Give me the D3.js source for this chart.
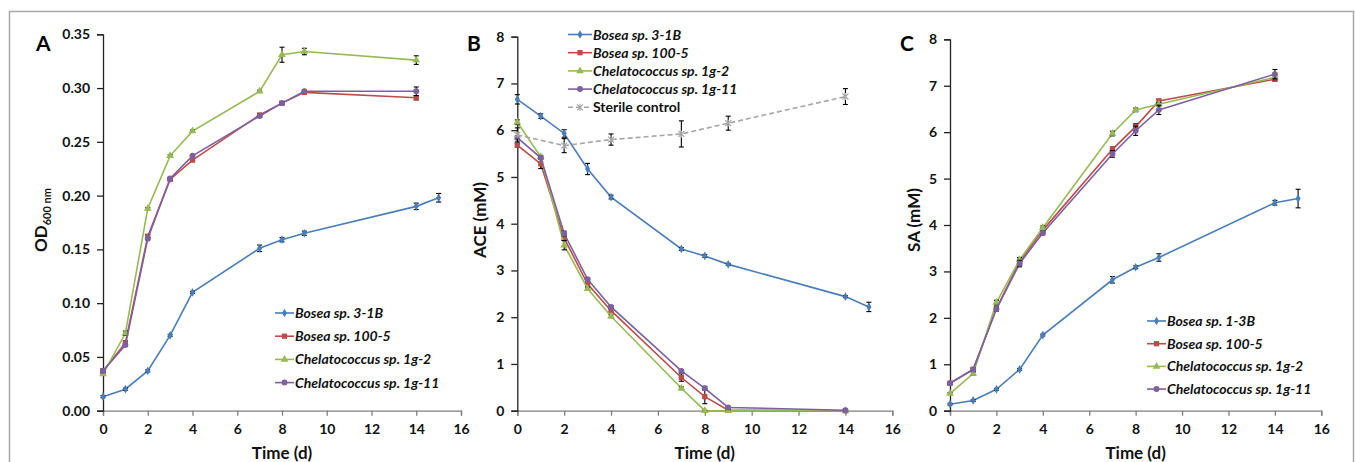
<!DOCTYPE html>
<html>
<head>
<meta charset="utf-8">
<script src="https://cdn.jsdelivr.net/npm/d3@7"></script>
<style>
  body { margin: 0; background: #fff; }
  svg text { font-family: Lato, "Open Sans", sans-serif; }
</style>
</head>
<body>
<div id="chart"></div>
<script>
// ---- data ----
var days = [0, 1, 2, 3, 4, 7, 8, 9, 14];
var daysLong = [0, 1, 2, 3, 4, 7, 8, 9, 14, 15];
var daysControl = [0, 2, 4, 7, 9, 14];

var seriesNames = ["Bosea sp. 3-1B", "Bosea sp. 100-5", "Chelatococcus sp. 1g-2", "Chelatococcus sp. 1g-11"];
var seriesNamesC = ["Bosea sp. 1-3B", "Bosea sp. 100-5", "Chelatococcus sp. 1g-2", "Chelatococcus sp. 1g-11"];
var controlName = "Sterile control";

// A: OD600
var odBlue = [0.013, 0.020, 0.037, 0.070, 0.110, 0.151, 0.159, 0.165, 0.190, 0.198];
var odBlueErr = [0.001, 0.001, 0.001, 0.001, 0.001, 0.003, 0.002, 0.002, 0.003, 0.004];
var odRed = [0.037, 0.063, 0.162, 0.215, 0.233, 0.275, 0.286, 0.296, 0.291];
var odRedErr = [0.002, 0.002, 0.002, 0.001, 0.001, 0.001, 0.001, 0.001, 0.002];
var odGreen = [0.034, 0.072, 0.188, 0.237, 0.260, 0.297, 0.331, 0.334, 0.326];
var odGreenErr = [0.001, 0.002, 0.001, 0.001, 0.001, 0.001, 0.007, 0.003, 0.004];
var odPurple = [0.037, 0.061, 0.160, 0.216, 0.237, 0.274, 0.286, 0.297, 0.297];
var odPurpleErr = [0.001, 0.001, 0.001, 0.001, 0.001, 0.001, 0.001, 0.001, 0.004];

// B: ACE (mM)
var aceBlue = [6.66, 6.30, 5.93, 5.17, 4.57, 3.46, 3.31, 3.13, 2.44, 2.22];
var aceBlueErr = [0.10, 0.05, 0.08, 0.12, 0.04, 0.03, 0.03, 0.02, 0.02, 0.10];
var aceRed = [5.68, 5.28, 3.69, 2.71, 2.14, 0.71, 0.30, 0.01, 0.0];
var aceRedErr = [0.04, 0.10, 0.05, 0.04, 0.03, 0.08, 0.15, 0.01, 0.01];
var aceGreen = [6.17, 5.43, 3.54, 2.61, 2.02, 0.48, 0.0, 0.0, 0.0];
var aceGreenErr = [0.05, 0.03, 0.10, 0.03, 0.03, 0.03, 0.01, 0.01, 0.01];
var acePurple = [5.84, 5.41, 3.79, 2.81, 2.22, 0.85, 0.48, 0.07, 0.01];
var acePurpleErr = [0.04, 0.03, 0.05, 0.03, 0.03, 0.03, 0.04, 0.01, 0.01];
var aceControl = [5.90, 5.67, 5.80, 5.92, 6.15, 6.72];
var aceControlErr = [0.15, 0.15, 0.12, 0.28, 0.15, 0.17];

// C: SA (mM)
var saBlue = [0.14, 0.22, 0.46, 0.89, 1.63, 2.82, 3.09, 3.30, 4.48, 4.57];
var saBlueErr = [0.02, 0.02, 0.02, 0.02, 0.02, 0.07, 0.03, 0.08, 0.05, 0.20];
var saRed = [0.59, 0.89, 2.20, 3.21, 3.89, 5.63, 6.12, 6.67, 7.14];
var saRedErr = [0.02, 0.03, 0.05, 0.08, 0.05, 0.05, 0.06, 0.04, 0.04];
var saGreen = [0.37, 0.80, 2.33, 3.25, 3.94, 5.97, 6.48, 6.60, 7.18];
var saGreenErr = [0.02, 0.03, 0.05, 0.05, 0.04, 0.05, 0.04, 0.04, 0.05];
var saPurple = [0.59, 0.89, 2.19, 3.17, 3.83, 5.53, 6.03, 6.48, 7.25];
var saPurpleErr = [0.02, 0.03, 0.04, 0.07, 0.04, 0.07, 0.10, 0.10, 0.10];

var xTicks = [0, 2, 4, 6, 8, 10, 12, 14, 16];

// colours / marker shapes
var colors = ["#4a7ebb", "#be4b48", "#98b954", "#7d60a0"];
var controlColor = "#a6a6a6";
var markers = ["diamond", "square", "triangle", "circle"];

var w = 1355, h = 462;

var svg = d3.select("#chart")
    .append("svg")
    .attr("width", w)
    .attr("height", h);

// outer frame
svg.append("rect")
    .attr("x", 9.5).attr("y", 11.5)
    .attr("width", 1344).attr("height", 470)
    .attr("fill", "none")
    .attr("stroke", "#a8a8a8")
    .attr("stroke-width", 1.5);

function markerPath(kind) {
    if (kind == "diamond") return d3.symbol(d3.symbolDiamond, 22)();
    if (kind == "square") return d3.symbol(d3.symbolSquare, 28)();
    if (kind == "triangle") return d3.symbol(d3.symbolTriangle, 26)();
    if (kind == "circle") return d3.symbol(d3.symbolCircle, 28)();
    // asterisk marker for sterile control
    return "M-3,-3L3,3M-3,3L3,-3M0,-3.5L0,3.5";
}

function drawMarker(g, kind, color, x, y) {
    var p = g.append("path")
        .attr("d", markerPath(kind))
        .attr("transform", "translate(" + x + "," + y + ")");
    if (kind == "star") {
        p.attr("fill", "none").attr("stroke", color).attr("stroke-width", 1.2);
    } else {
        p.attr("fill", color);
    }
}

function drawPanel(cfg) {
    var g = svg.append("g");
    var x = d3.scaleLinear().domain([0, 16]).range(cfg.xRange);
    var y = d3.scaleLinear().domain(cfg.yDomain).range(cfg.yRange);

    // x axis
    var xAxis = g.append("g")
        .attr("transform", "translate(0," + cfg.yRange[0] + ")")
        .call(d3.axisBottom(x).tickValues(xTicks).tickSize(5).tickPadding(8).tickFormat(d3.format("d")));
    xAxis.selectAll("path, line").attr("stroke", "#7f7f7f").attr("stroke-width", 1.3);
    xAxis.selectAll("text")
        .attr("font-size", "14px").attr("font-weight", "bold").attr("fill", "#111")
        .attr("font-family", "Lato, sans-serif");

    // y axis
    var yAxis = g.append("g")
        .attr("transform", "translate(" + cfg.xRange[0] + ",0)")
        .call(d3.axisLeft(y).tickValues(cfg.yTicks).tickSize(6).tickPadding(7).tickFormat(cfg.yFormat));
    yAxis.selectAll("path, line").attr("stroke", "#222").attr("stroke-width", 1.3);
    yAxis.selectAll("text")
        .attr("font-size", "14px").attr("font-weight", "bold").attr("fill", "#111")
        .attr("font-family", "Lato, sans-serif");

    // axis titles
    g.append("text")
        .attr("x", (cfg.xRange[0] + cfg.xRange[1]) / 2)
        .attr("y", 459)
        .attr("text-anchor", "middle")
        .attr("font-size", "17px").attr("font-weight", "bold").attr("fill", "#111")
        .text("Time (d)");

    var yt = g.append("text")
        .attr("transform", "translate(" + cfg.yTitleX + ",220) rotate(-90)")
        .attr("text-anchor", "middle")
        .attr("font-size", "17px").attr("font-weight", "bold").attr("fill", "#111");
    if (cfg.yTitleSub) {
        yt.append("tspan").text(cfg.yTitle);
        yt.append("tspan").attr("font-size", "11px").attr("dy", 4).text(cfg.yTitleSub);
    } else {
        yt.text(cfg.yTitle);
    }

    // panel letter
    g.append("text")
        .attr("x", cfg.letterX).attr("y", 51)
        .attr("font-family", "Liberation Sans, Arial, sans-serif")
        .attr("font-size", "21px").attr("font-weight", "bold").attr("fill", "#000")
        .text(cfg.letter);

    var line = d3.line()
        .x(function(d) { return x(d[0]); })
        .y(function(d) { return y(d[1]); });

    cfg.series.forEach(function(s) {
        var pts = s.x.map(function(t, i) { return [t, s.y[i], s.err[i]]; });
        g.append("path")
            .datum(pts)
            .attr("d", line)
            .attr("fill", "none")
            .attr("stroke", s.color)
            .attr("stroke-width", 1.6)
            .attr("stroke-dasharray", s.dashed ? "5,3" : null);
        // error bars
        pts.forEach(function(p) {
            var cx = x(p[0]);
            var y1 = y(Math.max(0, p[1] - p[2])), y2 = y(p[1] + p[2]);
            var eb = g.append("g").attr("stroke", "#000").attr("stroke-width", 1.1);
            eb.append("line").attr("x1", cx).attr("x2", cx).attr("y1", y1).attr("y2", y2);
            eb.append("line").attr("x1", cx - 2.5).attr("x2", cx + 2.5).attr("y1", y1).attr("y2", y1);
            eb.append("line").attr("x1", cx - 2.5).attr("x2", cx + 2.5).attr("y1", y2).attr("y2", y2);
        });
        pts.forEach(function(p) {
            drawMarker(g, s.marker, s.color, x(p[0]), y(p[1]));
        });
    });

    // legend
    var lg = g.append("g").attr("transform", "translate(" + cfg.legend[0] + "," + cfg.legend[1] + ")");
    cfg.series.forEach(function(s, i) {
        var yy = i * cfg.legendStep;
        lg.append("line")
            .attr("x1", 0).attr("x2", cfg.legendLine)
            .attr("y1", yy).attr("y2", yy)
            .attr("stroke", s.color).attr("stroke-width", 1.6)
            .attr("stroke-dasharray", s.dashed ? "5,3" : null);
        drawMarker(lg, s.marker, s.color, cfg.legendLine / 2, yy);
        lg.append("text")
            .attr("x", cfg.legendLine + 1).attr("y", yy + 5)
            .attr("font-size", "14px").attr("font-weight", "bold")
            .attr("font-style", s.dashed ? "normal" : "italic")
            .attr("fill", "#111")
            .text(s.name);
    });
}

function mk(names, xs, ys, errs) {
    return ys.map(function(v, i) {
        return { name: names[i], x: xs[i], y: v, err: errs[i], color: colors[i], marker: markers[i] };
    });
}

drawPanel({
    letter: "A", letterX: 36,
    xRange: [103, 461], yDomain: [0, 0.35], yRange: [410.7, 34.3],
    yTicks: [0, 0.05, 0.1, 0.15, 0.2, 0.25, 0.3, 0.35], yFormat: d3.format(".2f"),
    yTitle: "OD", yTitleSub: "600 nm", yTitleX: 47,
    series: mk(seriesNames, [daysLong, days, days, days],
        [odBlue, odRed, odGreen, odPurple], [odBlueErr, odRedErr, odGreenErr, odPurpleErr]),
    legend: [275, 313], legendStep: 23.2, legendLine: 19
});

var seriesB = mk(seriesNames, [daysLong, days, days, days],
    [aceBlue, aceRed, aceGreen, acePurple], [aceBlueErr, aceRedErr, aceGreenErr, acePurpleErr]);
seriesB.push({ name: controlName, x: daysControl, y: aceControl, err: aceControlErr,
    color: controlColor, marker: "star", dashed: true });

drawPanel({
    letter: "B", letterX: 467,
    xRange: [517.3, 892.3], yDomain: [0, 8], yRange: [410.7, 36.7],
    yTicks: [0, 1, 2, 3, 4, 5, 6, 7, 8], yFormat: d3.format("d"),
    yTitle: "ACE (mM)", yTitleX: 486,
    series: seriesB,
    legend: [568, 34.5], legendStep: 18.2, legendLine: 24
});

drawPanel({
    letter: "C", letterX: 900,
    xRange: [950, 1321.3], yDomain: [0, 8], yRange: [410.7, 39.3],
    yTicks: [0, 1, 2, 3, 4, 5, 6, 7, 8], yFormat: d3.format("d"),
    yTitle: "SA (mM)", yTitleX: 920,
    series: mk(seriesNamesC, [daysLong, days, days, days],
        [saBlue, saRed, saGreen, saPurple], [saBlueErr, saRedErr, saGreenErr, saPurpleErr]),
    legend: [1147, 321], legendStep: 22.7, legendLine: 19
});
</script>
</body>
</html>
